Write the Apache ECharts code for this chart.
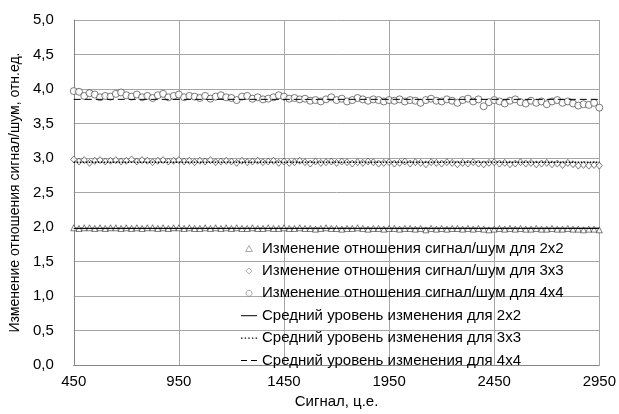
<!DOCTYPE html>
<html><head><meta charset="utf-8">
<script src="https://cdn.jsdelivr.net/npm/echarts@6/dist/echarts.min.js"></script>
<style>html,body{margin:0;padding:0;background:#fff}#c{width:619px;height:414px}</style>
</head><body><div id="c"></div>
<script>
const signal = [450,475,500,525,550,575,600,625,650,675,
700,725,750,775,800,825,850,875,900,925,
950,975,1000,1025,1050,1075,1100,1125,1150,1175,
1200,1225,1250,1275,1300,1325,1350,1375,1400,1425,
1450,1475,1500,1525,1550,1575,1600,1625,1650,1675,
1700,1725,1750,1775,1800,1825,1850,1875,1900,1925,
1950,1975,2000,2025,2050,2075,2100,2125,2150,2175,
2200,2225,2250,2275,2300,2325,2350,2375,2400,2425,
2450,2475,2500,2525,2550,2575,2600,2625,2650,2675,
2700,2725,2750,2775,2800,2825,2850,2875,2900,2925,2950];
const ratio2x2 = [1.99,1.98,1.99,1.99,1.98,1.99,1.98,1.99,1.99,1.98,
1.99,1.98,1.99,1.98,1.99,1.99,1.98,1.99,1.98,1.99,
1.99,1.98,1.99,1.98,1.98,1.99,1.98,1.99,1.98,1.99,
1.98,1.99,1.98,1.98,1.99,1.98,1.98,1.99,1.98,1.98,
1.99,1.98,1.98,1.99,1.98,1.98,1.97,1.98,1.99,1.98,
1.98,1.97,1.98,1.98,1.99,1.98,1.97,1.98,1.98,1.97,
1.98,1.98,1.97,1.98,1.98,1.97,1.98,1.96,1.98,1.97,
1.98,1.97,1.98,1.98,1.97,1.98,1.97,1.98,1.97,1.96,
1.97,1.98,1.97,1.98,1.97,1.98,1.97,1.97,1.98,1.97,
1.97,1.98,1.97,1.97,1.98,1.97,1.97,1.96,1.97,1.97,1.96];
const ratio3x3 = [2.98,2.95,2.97,2.93,2.96,2.97,2.95,2.96,2.97,2.95,
2.96,2.98,2.95,2.97,2.96,2.94,2.96,2.97,2.95,2.96,
2.97,2.95,2.96,2.94,2.96,2.95,2.97,2.94,2.95,2.96,
2.95,2.93,2.96,2.94,2.95,2.96,2.94,2.95,2.96,2.93,
2.95,2.93,2.94,2.96,2.94,2.92,2.95,2.93,2.94,2.95,
2.93,2.95,2.94,2.92,2.94,2.93,2.95,2.94,2.92,2.93,
2.94,2.92,2.93,2.95,2.92,2.94,2.93,2.91,2.94,2.93,
2.92,2.94,2.93,2.91,2.93,2.92,2.94,2.92,2.91,2.93,
2.94,2.92,2.93,2.91,2.92,2.94,2.92,2.93,2.91,2.92,
2.93,2.91,2.92,2.90,2.93,2.91,2.89,2.90,2.89,2.90,2.89];
const ratio4x4 = [3.97,3.96,3.90,3.94,3.92,3.88,3.90,3.89,3.93,3.95,
3.91,3.89,3.92,3.88,3.90,3.87,3.91,3.93,3.88,3.90,
3.92,3.88,3.90,3.89,3.87,3.90,3.86,3.89,3.91,3.88,
3.87,3.84,3.89,3.90,3.86,3.88,3.85,3.86,3.88,3.91,
3.89,3.86,3.87,3.85,3.86,3.83,3.84,3.82,3.85,3.88,
3.84,3.86,3.82,3.84,3.87,3.85,3.83,3.85,3.84,3.82,
3.84,3.83,3.85,3.82,3.84,3.83,3.80,3.84,3.86,3.83,
3.82,3.85,3.83,3.80,3.84,3.86,3.82,3.85,3.75,3.81,
3.84,3.82,3.79,3.83,3.85,3.81,3.79,3.83,3.80,3.82,
3.78,3.82,3.84,3.80,3.82,3.79,3.76,3.78,3.77,3.80,3.73];
const meanX = [450, 2950];
const mean2x2 = [1.98, 1.98];
const mean3x3 = [2.94, 2.94];
const mean4x4 = [3.85, 3.85];
const names = ['Изменение отношения сигнал/шум для 2x2','Изменение отношения сигнал/шум для 3x3','Изменение отношения сигнал/шум для 4x4','Средний уровень изменения для 2x2','Средний уровень изменения для 3x3','Средний уровень изменения для 4x4'];
const xTitle = 'Сигнал, ц.е.';
const yTitle = 'Изменение отношения сигнал/шум, отн.ед.';

const pairs = (xs, ys) => xs.map((x, i) => [x, ys[i]]);
const FONT = 'Liberation Sans, Arial, sans-serif';
const FS = 15;
const mk = {color:'#fff', borderColor:'#333', borderWidth:0.8};
const legMk = {color:'#fff', borderColor:'#777', borderWidth:0.8};
const chart = echarts.init(document.getElementById('c'), null, {renderer:'canvas'});
chart.setOption({
  animation:false,
  backgroundColor:'#fff',
  grid:{left:71, right:18, top:20, bottom:44, containLabel:false},
  xAxis:{type:'value', min:450, max:2950, interval:500,
    name:xTitle, nameLocation:'middle', nameGap:28,
    nameTextStyle:{fontFamily:FONT, fontSize:FS, color:'#000'},
    axisLine:{show:true, lineStyle:{color:'#868686', width:1}},
    axisTick:{show:false},
    axisLabel:{fontFamily:FONT, fontSize:FS, color:'#000', margin:9, formatter:v=>String(v)},
    splitLine:{show:true, lineStyle:{color:'#a6a6a6', width:1}}},
  yAxis:{type:'value', min:0, max:5, interval:0.5,
    name:yTitle, nameLocation:'middle', nameGap:48, nameRotate:90,
    nameTextStyle:{fontFamily:FONT, fontSize:14, color:'#000'},
    axisLine:{show:true, lineStyle:{color:'#868686', width:1}},
    axisTick:{show:false},
    axisLabel:{fontFamily:FONT, fontSize:FS, color:'#000', margin:20, formatter:v=>v.toFixed(1).replace('.',',')},
    splitLine:{show:true, lineStyle:{color:'#a6a6a6', width:1}}},
  legend:{orient:'vertical', left:236, top:236, itemWidth:16, itemHeight:6, itemGap:7.4,
    textStyle:{fontFamily:FONT, fontSize:FS, color:'#000'},
    data:[
      {name:names[0], icon:'path://M4,0L8,7L0,7Z', itemStyle:legMk},
      {name:names[1], icon:'path://M3.5,0L7,3.5L3.5,7L0,3.5Z', itemStyle:legMk},
      {name:names[2], icon:'path://M4,0L6,0.54L7.46,2L8,4L7.46,6L6,7.46L4,8L2,7.46L0.54,6L0,4L0.54,2L2,0.54Z', itemStyle:legMk},
      {name:names[3], icon:'path://M0,0h16v1h-16Z', itemStyle:{color:'#000'}},
      {name:names[4], icon:'path://M0,0h1.4v1.4h-1.4Z M3.6,0h1.4v1.4h-1.4Z M7.2,0h1.4v1.4h-1.4Z M10.8,0h1.4v1.4h-1.4Z M14.4,0h1.4v1.4h-1.4Z', itemStyle:{color:'#000'}},
      {name:names[5], icon:'path://M0,0h6v1h-6Z M10,0h6v1h-6Z', itemStyle:{color:'#000'}}]},
  series:[
    {name:names[0], type:'scatter', symbol:'triangle', symbolSize:6, itemStyle:mk, data:pairs(signal, ratio2x2), z:3},
    {name:names[1], type:'scatter', symbol:'diamond', symbolSize:[6,7], itemStyle:mk, data:pairs(signal, ratio3x3), z:3},
    {name:names[2], type:'scatter', symbol:'circle', symbolSize:7, itemStyle:mk, data:pairs(signal, ratio4x4), z:3},
    {name:names[3], type:'line', symbol:'none', color:'#000', lineStyle:{color:'#000', width:1, type:'solid'}, data:pairs(meanX, mean2x2), z:4},
    {name:names[4], type:'line', symbol:'none', color:'#000', lineStyle:{color:'#000', width:1.6, type:[1.5,1.5]}, data:pairs(meanX, mean3x3), z:4},
    {name:names[5], type:'line', symbol:'none', color:'#000', lineStyle:{color:'#000', width:1, type:[7,4]}, data:pairs(meanX, mean4x4), z:4}
  ]
});
</script></body></html>
